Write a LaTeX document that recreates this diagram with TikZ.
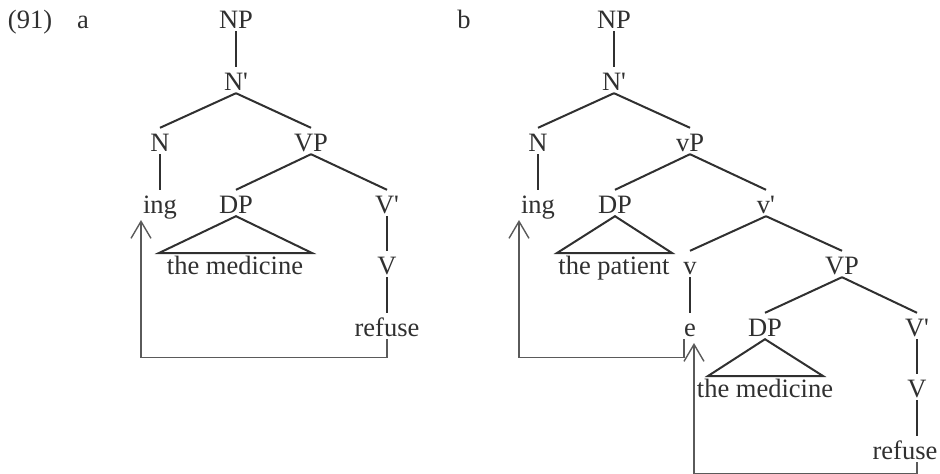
\documentclass[tikz,border=0pt]{standalone}
\usepackage{fontspec}
\setmainfont{Liberation Serif}
\usetikzlibrary{arrows.meta,calc}
\definecolor{ink}{HTML}{303030}
\definecolor{arr}{HTML}{5A5A5A}
\begin{document}
\begin{tikzpicture}[x=1pt,y=-1pt,
  lab/.style={inner sep=0pt, text height=23pt, text depth=3pt, anchor=base,
    font=\fontsize{26.5}{31}\selectfont, text=ink},
  edge/.style={draw=ink, line width=2pt},
  tri/.style={draw=ink, line width=2pt, line join=miter},
  mov/.style={draw=arr, line width=1.4pt,
    -{Straight Barb[length=17pt,width=20pt,line width=1.4pt]}}]
\useasboundingbox (0,0) rectangle (940,474);

% labels
\node[lab] (num) at (30,28) {(91)};
\node[lab] (la) at (83,28) {a};
\node[lab] (lb) at (464,28) {b};

% ---------- tree a ----------
\node[lab] (aNP) at (236,28) {NP};
\node[lab] (aNb) at (236,90) {N\textquotesingle};
\node[lab] (aN) at (160,151) {N};
\node[lab] (aVP) at (311,151) {VP};
\node[lab] (aing) at (160,213) {ing};
\node[lab] (aDP) at (236,213) {DP};
\node[lab] (aVb) at (387,213) {V\textquotesingle};
\node[lab] (amed) at (235,274) {the medicine};
\node[lab] (aV) at (387,274) {V};
\node[lab] (aref) at (387,336) {refuse};
\coordinate (aTL) at (159,253);
\coordinate (aTR) at (312,253);
\coordinate (aTip) at (141,220);

\draw[edge] (aNP.south) -- (aNb.north);
\draw[edge] (aNb.south) -- (aN.north);
\draw[edge] (aNb.south) -- (aVP.north);
\draw[edge] (aN.south) -- (aing.north);
\draw[edge] (aVP.south) -- (aDP.north);
\draw[edge] (aVP.south) -- (aVb.north);
\draw[tri] (aDP.south) -- (aTL) -- (aTR) -- cycle;
\draw[edge] (aVb.south) -- (aV.north);
\draw[edge] (aV.south) -- (aref.north);
\draw[mov] (aref.south) -- ++(0,18) -| (aTip);

% ---------- tree b ----------
\node[lab] (bNP) at (614,28) {NP};
\node[lab] (bNb) at (614,90) {N\textquotesingle};
\node[lab] (bN) at (538,151) {N};
\node[lab] (bvP) at (690,151) {vP};
\node[lab] (bing) at (538,213) {ing};
\node[lab] (bDP) at (615,213) {DP};
\node[lab] (bvb) at (766,213) {v\textquotesingle};
\node[lab] (bpat) at (614,274) {the patient};
\node[lab] (bv) at (690,274) {v};
\node[lab] (bVP) at (842,274) {VP};
\node[lab] (be) at (690,336) {e};
\node[lab] (bDP2) at (765,336) {DP};
\node[lab] (bVb) at (917,336) {V\textquotesingle};
\node[lab] (bmed) at (765,397) {the medicine};
\node[lab] (bV) at (917,397) {V};
\node[lab] (bref) at (905,459) {refuse};
\coordinate (bTL) at (557,253);
\coordinate (bTR) at (672,253);
\coordinate (bTL2) at (708,376);
\coordinate (bTR2) at (823,376);
\coordinate (bTip1) at (519,220);
\coordinate (bTip2) at (694,343);

\draw[edge] (bNP.south) -- (bNb.north);
\draw[edge] (bNb.south) -- (bN.north);
\draw[edge] (bNb.south) -- (bvP.north);
\draw[edge] (bN.south) -- (bing.north);
\draw[edge] (bvP.south) -- (bDP.north);
\draw[edge] (bvP.south) -- (bvb.north);
\draw[tri] (bDP.south) -- (bTL) -- (bTR) -- cycle;
\draw[edge] (bvb.south) -- (bv.north);
\draw[edge] (bvb.south) -- (bVP.north);
\draw[edge] (bv.south) -- (be.north);
\draw[edge] (bVP.south) -- (bDP2.north);
\draw[edge] (bVP.south) -- (bVb.north);
\draw[tri] (bDP2.south) -- (bTL2) -- (bTR2) -- cycle;
\draw[edge] (bVb.south) -- (bV.north);
\draw[edge] (bV.south) -- (bV.south |- bref.north);
\draw[mov] (be.south west) -- ++(0,18) -| (bTip1);
\draw[mov] (bV.south |- bref.south) -- ++(0,11) -| (bTip2);
\end{tikzpicture}
\end{document}
